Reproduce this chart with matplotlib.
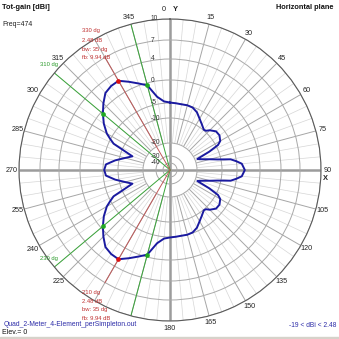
import numpy as np
import matplotlib
matplotlib.use("Agg")
import matplotlib.pyplot as plt
from matplotlib.patches import Rectangle

plt.rcParams['font.family'] = ['Liberation Sans', 'DejaVu Sans']

# Horizontal-plane total gain (azimuth in degrees, gain in dBi)
azimuth_deg = [0, 5, 10, 15, 20, 25, 30, 35, 40, 42.5, 45, 50, 55, 60, 62.5, 65, 68,
               70, 72.5, 75, 77.5, 80, 82.5, 85, 90,
               95, 97.5, 100, 102.5, 105, 107.5, 110, 112, 115, 117.5, 120, 125, 130,
               135, 137.5, 140, 145, 150, 155, 160, 165, 170, 175, 180,
               185, 190, 195, 200, 205, 210, 215, 220, 225, 230, 235, 240, 242.5, 245,
               247, 250, 255, 260, 265, 270,
               275, 280, 285, 290, 293, 295, 297.5, 300, 305, 310, 315, 320, 325, 330,
               335, 340, 345, 350, 355]
gain_dbi = [-4.9, -5.0, -5.1, -5.0, -5.2, -6.1, -7.6, -8.8, -9.8, -9.6, -8.6, -7.3, -7.2, -8.0, -9.3, -13.5, -19.0,
            -18.2, -16.5, -14.2, -11.3, -6.8, -5.0, -3.9, -3.3,
            -3.9, -5.0, -6.8, -11.3, -14.2, -16.5, -18.2, -19.0, -13.5, -9.3, -8.0, -7.2, -7.3,
            -8.6, -9.6, -9.8, -8.8, -7.6, -6.1, -5.2, -5.0, -5.1, -5.0, -4.9,
            -4.6, -3.4, -0.52, 0.4, 1.4, 2.48, 2.4, 2.0, 0.8, -0.52, -2.0, -3.7, -4.9, -6.6,
            -10.5, -14.8, -12.2, -8.8, -5.9, -5.4,
            -5.9, -8.8, -12.2, -14.8, -10.5, -6.6, -4.9, -3.7, -2.0, -0.52, 0.8, 2.0, 2.4, 2.48,
            1.4, 0.4, -0.52, -3.4, -4.6]

# Ring levels shown on the radial axis (dBi)
ring_levels = [-40, -30, -20, -10, -5, 0, 4, 7, 10]
ring_labels = ['-40', '-30', '-20', '-10', '-5', '0', '4', '7', '10']

# Beam summary: main lobe directions and -3 dB beamwidth edges
peak_az = [330, 210]
peak_gain = 2.48
half_power_az = [310, 345, 230, 195]
half_power_gain = -0.52
peak_texts = [['330 dg', '2.48 dB', 'bw: 35 dg', 'fb: 9.94 dB'],
              ['210 dg', '2.48 dB', 'bw: 35 dg', 'fb: 9.94 dB']]
edge_texts = {310: '310 dg', 230: '230 dg'}

# azimuth labels (those under the beam notes and file name are covered)
angle_ticks = [a for a in range(15, 360, 15) if a not in (195, 210, 330)]

# Compressed radial scale (dBi -> radius in pixels of the 151 px plot circle)
scale_db = [-50, -40, -30, -20, -10, -5, 0, 4, 7, 10]
scale_px = [0, 7, 14, 27, 52, 67, 90, 111, 130, 151]


def fwd(v):
    return np.interp(np.asarray(v, dtype=float), scale_db, scale_px)


def inv(r):
    return np.interp(np.asarray(r, dtype=float), scale_px, scale_db)


W = H = 339
fig = plt.figure(figsize=(W / 100, H / 100), dpi=100)
fig.patch.set_facecolor('white')
fig.patches.append(Rectangle((0, 0), 1, 2.5 / H, transform=fig.transFigure,
                             color='#d6d2ca', zorder=0))

cx, cy, R = 170, 170, 151
ax = fig.add_axes([(cx - R) / W, (H - cy - R) / H, 2 * R / W, 2 * R / H],
                  projection='polar')
ax.set_theta_zero_location('N')
ax.set_theta_direction(-1)
ax.set_rscale('function', functions=(fwd, inv))
ax.set_rlim(-50, 10)
ax.set_facecolor('white')

# concentric rings
ax.set_rgrids(ring_levels, labels=[''] * len(ring_levels))
ax.yaxis.grid(True, color='#a9a9a9', lw=0.7)
ax.set_xticks([])
ax.xaxis.grid(False)
ax.spines['polar'].set_color('#5a5a5a')
ax.spines['polar'].set_linewidth(0.8)

# spokes: light every 5 deg, darker every 15 deg, heavy axes every 90 deg
minor = [a for a in range(0, 360, 5) if a % 15 != 0]
major = [a for a in range(0, 360, 15) if a % 90 != 0]
ax.vlines(np.deg2rad(minor), -20, 10, colors='#d6d6d6', lw=0.5, zorder=1)
ax.vlines(np.deg2rad(major), -20, 10, colors='#a6a6a6', lw=0.7, zorder=1)
ax.vlines(np.deg2rad([0, 90, 180, 270]), -50, 10, colors='#9c9c9c', lw=1.8, zorder=1)

# beam direction and beamwidth lines
for a in half_power_az:
    ax.plot([np.deg2rad(a)] * 2, [-50, 10], color='#3aa53a', lw=0.7, zorder=2)
for a in peak_az:
    ax.plot([np.deg2rad(a)] * 2, [-50, 7], color='#c05a5a', lw=0.7, zorder=2)

# pattern
th = np.deg2rad(azimuth_deg + [azimuth_deg[0] + 360])
g = gain_dbi + [gain_dbi[0]]
ax.plot(th, g, color='#1a1aa0', lw=1.4, zorder=3)

ax.plot(np.deg2rad(half_power_az), [half_power_gain] * len(half_power_az), 'o',
        color='#22aa22', ms=3.4, mec='none', zorder=4)
ax.plot(np.deg2rad(peak_az), [peak_gain] * len(peak_az), 'o',
        color='#dd1111', ms=3.4, mec='none', zorder=4)

px = 72 / 100  # points per pixel

# radial labels beside the vertical axis
for lvl, lab in zip(ring_levels, ring_labels):
    ax.annotate(lab, xy=(0, lvl), xytext=(-19 * px, 0), textcoords='offset points',
                ha='left', va='center', fontsize=4.8, color='#333333', zorder=5)

# azimuth labels around the circle
rl = 158 / (2 * R)
for a in angle_ticks:
    t = np.deg2rad(a)
    ax.text(0.5 + rl * np.sin(t), 0.5 + rl * np.cos(t), str(a), transform=ax.transAxes,
            ha='center', va='center', fontsize=5.2, color='#222222')
ax.text((163.5 - 19) / 302, (321 - 9.5) / 302, '0', transform=ax.transAxes,
        ha='center', va='center', fontsize=5.2, color='#222222')
ax.text((175 - 19) / 302, (321 - 9.5) / 302, 'Y', transform=ax.transAxes,
        ha='center', va='center', fontsize=5.4, color='#222222', fontweight='bold')
ax.text((325.5 - 19) / 302, (321 - 178) / 302, 'X', transform=ax.transAxes,
        ha='center', va='center', fontsize=5.4, color='#222222', fontweight='bold')

# peak annotations
red = '#c03030'
for a, lines, offs in zip(peak_az, peak_texts,
                          [[-26.6, -17.4, -8.2, 0.5], [9.9, 19.0, 27.3, 35.8]]):
    for line, dy in zip(lines, offs):
        ax.annotate(line, xy=(np.deg2rad(a), 7), xytext=(-23.3 * px, -dy * px),
                    textcoords='offset points', ha='left', va='center',
                    fontsize=4.2, color=red, zorder=5)
for a, txt in edge_texts.items():
    ax.annotate(txt, xy=(np.deg2rad(a), 10), xytext=(-5.5 * px, 8.5 * px),
                textcoords='offset points', ha='center', va='center',
                fontsize=4.2, color='#2a9a2a', zorder=5, annotation_clip=False)

# header and footer texts
blue = '#2c2ca8'
fig.text(2 / W, 1 - 7.5 / H, 'Tot-gain [dBi]', ha='left', va='center',
         fontsize=5.3, fontweight='bold', color='#111111')
fig.text(2 / W, 1 - 25 / H, 'Freq=474', ha='left', va='center',
         fontsize=5.0, color='#222222')
fig.text(334 / W, 1 - 7.5 / H, 'Horizontal plane', ha='right', va='center',
         fontsize=5.3, fontweight='bold', color='#111111')
fig.text(3.3 / W, 1 - 324.5 / H, 'Quad_2-Meter_4-Element_perSimpleton.out', ha='left',
         va='center', fontsize=4.9, color=blue)
fig.text(2 / W, 1 - 333 / H, 'Elev.= 0', ha='left', va='center',
         fontsize=5.0, color='#111111')
fig.text(336 / W, 1 - 325.5 / H, '-19 < dBi < 2.48', ha='right', va='center',
         fontsize=4.8, color=blue)

fig.savefig('out.png', dpi=100, facecolor='white')
